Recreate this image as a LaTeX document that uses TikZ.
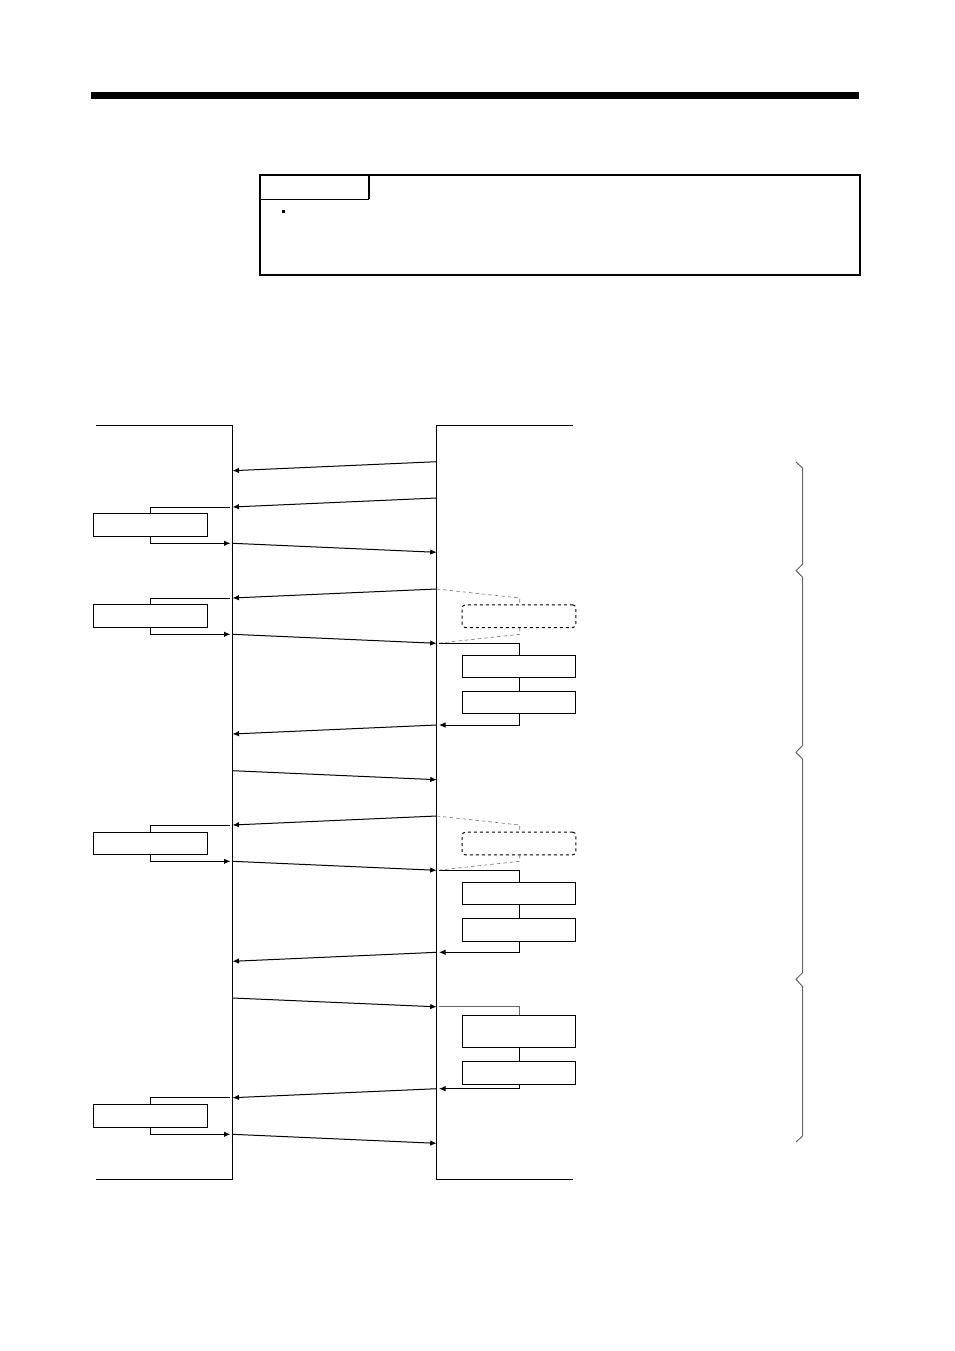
\documentclass[tikz,border=0pt]{standalone}
\usetikzlibrary{arrows.meta}
\tikzset{
  x=1pt,y=-1pt,
  ln/.style={line width=1pt,black},
  arr/.style={ln,-{Latex[length=6.5pt,width=5.5pt]}},
  boxl/.style={draw,line width=1pt,rectangle,minimum width=113.6pt,minimum height=22.6pt,inner sep=0pt,outer sep=0pt,fill=white},
  boxt/.style={boxl,minimum height=32.6pt},
  boxd/.style={boxl,dashed,rounded corners=3pt},
  dsh/.style={line width=0.6pt,dash pattern=on 3.5pt off 3pt,black!55},
  frame/.style={line width=2pt,black},
  brace/.style={line width=1pt,black!60},
}
\begin{document}
\begin{tikzpicture}
\useasboundingbox (0,0) rectangle (954,1351);
% header
\fill[black] (91,92) rectangle (859,99);
\coordinate (ft) at (260,175);
\coordinate (fb) at (860,275);
\draw[frame] (ft) rectangle (fb);
\draw[frame] (369,175) -- (369,199);
\draw[line width=1.5pt] (260,199.5) -- (369,199.5);
\fill[black] (282,209.5) rectangle (285,212.5);
% lifelines
\coordinate (la) at (96,425);
\coordinate (lb) at (232.5,425);
\coordinate (lc) at (232.5,1179.5);
\coordinate (ld) at (96,1179.5);
\coordinate (ra) at (573,425);
\coordinate (rb) at (436.7,425);
\coordinate (rc) at (436.7,1179.5);
\coordinate (rd) at (573,1179.5);
\draw[ln] (la) -- (lb) -- (lc) -- (ld);
\draw[ln] (ra) -- (rb) -- (rc) -- (rd);
% left boxes
\node[boxl] (L1) at (150.7,525.2) {};
\node[boxl] (L2) at (150.7,616.2) {};
\node[boxl] (L3) at (150.7,843.5) {};
\node[boxl] (L4) at (150.7,1116) {};
% right boxes
\node[boxd] (D1) at (519,616.2) {};
\node[boxd] (D2) at (519,843.5) {};
\node[boxl] (A1) at (519,666.3) {};
\node[boxl] (A2) at (519,702.5) {};
\node[boxl] (B1) at (519,893.6) {};
\node[boxl] (B2) at (519,929.8) {};
\node[boxt] (C1) at (519,1031.6) {};
\node[boxl] (C2) at (519,1073) {};
% sloped messages
\coordinate (r01) at (436.7,461.7); \coordinate (l01) at (232.5,470.7);
\coordinate (r02) at (436.7,498);   \coordinate (l02) at (232.5,507);
\coordinate (l03) at (232.5,543.3); \coordinate (r03) at (436.7,552.3);
\coordinate (r04) at (436.7,589);   \coordinate (l04) at (232.5,598);
\coordinate (l05) at (232.5,634.3); \coordinate (r05) at (436.7,643.3);
\coordinate (r06) at (436.7,725);   \coordinate (l06) at (232.5,734);
\coordinate (l07) at (232.5,770.7); \coordinate (r07) at (436.7,779.7);
\coordinate (r08) at (436.7,816);   \coordinate (l08) at (232.5,825);
\coordinate (l09) at (232.5,861.3); \coordinate (r09) at (436.7,870.3);
\coordinate (r10) at (436.7,952.3); \coordinate (l10) at (232.5,961.3);
\coordinate (l11) at (232.5,998);   \coordinate (r11) at (436.7,1006.8);
\coordinate (r12) at (436.7,1088.7);\coordinate (l12) at (232.5,1097.7);
\coordinate (l13) at (232.5,1134.3);\coordinate (r13) at (436.7,1143.3);
\draw[arr] (r01) -- (l01);
\draw[arr] (r02) -- (l02);
\draw[arr] (l03) -- (r03);
\draw[arr] (r04) -- (l04);
\draw[arr] (l05) -- (r05);
\draw[arr] (r06) -- (l06);
\draw[arr] (l07) -- (r07);
\draw[arr] (r08) -- (l08);
\draw[arr] (l09) -- (r09);
\draw[arr] (r10) -- (l10);
\draw[arr] (l11) -- (r11);
\draw[arr] (r12) -- (l12);
\draw[arr] (l13) -- (r13);
% left stubs
\coordinate (s02) at (230,507);
\coordinate (s03) at (230.5,543.3);
\coordinate (s04) at (230,598);
\coordinate (s05) at (230.5,634.3);
\coordinate (s08) at (230,825);
\coordinate (s09) at (230.5,861.3);
\coordinate (s12) at (230,1097.7);
\coordinate (s13) at (230.5,1134.3);
\draw[ln] (L1.north) |- (s02);
\draw[arr] (L1.south) |- (s03);
\draw[ln] (L2.north) |- (s04);
\draw[arr] (L2.south) |- (s05);
\draw[ln] (L3.north) |- (s08);
\draw[arr] (L3.south) |- (s09);
\draw[ln] (L4.north) |- (s12);
\draw[arr] (L4.south) |- (s13);
% right stubs
\coordinate (t05) at (439,643.3);
\coordinate (t06) at (439,725);
\coordinate (t09) at (439,870.3);
\coordinate (t10) at (439,952.3);
\coordinate (t11) at (439,1006.8);
\coordinate (t12) at (439,1088.7);
\draw[ln] (t05) -| (A1.north);
\draw[ln] (A1.south) -- (A2.north);
\draw[arr] (A2.south) |- (t06);
\draw[ln] (t09) -| (B1.north);
\draw[ln] (B1.south) -- (B2.north);
\draw[arr] (B2.south) |- (t10);
\draw[ln,black!60] (t11) -| (C1.north);
\draw[ln] (C1.south) -- (C2.north);
\draw[arr] (C2.south) |- (t12);
% dashed leaders
\draw[dsh] (r04) -- (519.7,598) -- ([xshift=0.7pt]D1.north);
\draw[dsh] ([xshift=0.7pt]D1.south) -- (519.7,634.3) -- (r05);
\draw[dsh] (r08) -- (519.7,825) -- ([xshift=0.7pt]D2.north);
\draw[dsh] ([xshift=0.7pt]D2.south) -- (519.7,861.3) -- (r09);
% braces
\draw[brace] (796,462) -- (802.5,468) -- (802.5,564.3) -- (796,570.7) -- (802.5,577)
  -- (802.5,745.5) -- (796,752.3) -- (802.5,759)
  -- (802.5,972.7) -- (796,979.3) -- (802.5,986.5)
  -- (802.5,1136) -- (796,1142);
\end{tikzpicture}
\end{document}
